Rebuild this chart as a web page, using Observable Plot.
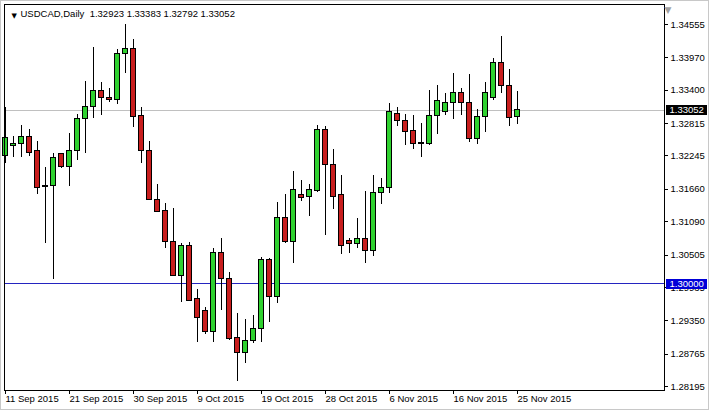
<!DOCTYPE html>
<html><head><meta charset="utf-8">
<script src="https://cdn.jsdelivr.net/npm/d3@7"></script>
<script src="https://cdn.jsdelivr.net/npm/@observablehq/plot@0.6"></script>
<style>
html,body{margin:0;padding:0;background:#fff;}
#chart svg{display:block;outline:1px solid #c8c8c8;outline-offset:-1px;shape-rendering:crispEdges;}
</style></head><body><div id="chart"></div>
<script>
const symbol = "USDCAD,Daily";
const open = [1.32236,1.32412,1.32447,1.32587,1.32324,1.31709,1.31709,1.32271,1.32060,1.32324,
1.32886,1.33097,1.33378,1.33272,1.33220,1.34045,1.34116,1.32939,1.32341,1.31463,
1.31270,1.30725,1.30145,1.30655,1.29724,1.29530,1.29144,1.30532,1.30075,1.29056,
1.28775,1.28986,1.29214,1.30426,1.29759,1.31147,1.30725,1.31551,1.31516,1.31621,
1.32693,1.32095,1.31551,1.30743,1.30707,1.30795,1.30567,1.31603,1.31674,1.32974,
1.32868,1.32675,1.32473,1.32447,1.32939,1.33009,1.33167,1.33343,1.33167,1.32535,
1.32921,1.33255,1.33870,1.33483,1.32923];
const high = [1.33097,1.32587,1.32781,1.32710,1.32499,1.32043,1.32289,1.32289,1.32640,1.32974,
1.33554,1.34151,1.33536,1.33431,1.34116,1.34555,1.34291,1.33097,1.32499,1.31744,
1.31410,1.31322,1.30707,1.30725,1.29899,1.29583,1.30620,1.30795,1.30198,1.29478,
1.29372,1.29442,1.30461,1.30444,1.31428,1.31568,1.31972,1.31814,1.31744,1.32781,
1.32763,1.32359,1.31902,1.30795,1.31147,1.31621,1.31902,1.31849,1.33167,1.33097,
1.32974,1.32956,1.32816,1.33395,1.33483,1.33343,1.33694,1.33431,1.33677,1.33062,
1.33536,1.33958,1.34344,1.33764,1.33383];
const low = [1.32113,1.32218,1.32218,1.32236,1.31568,1.30707,1.30075,1.32025,1.31709,1.32166,
1.32289,1.32904,1.32956,1.33185,1.33149,1.33694,1.32745,1.32113,1.31463,1.31252,
1.30620,1.30128,1.29671,1.29688,1.28968,1.29109,1.28968,1.29530,1.29003,1.28283,
1.28599,1.28950,1.28968,1.29319,1.29653,1.30707,1.30356,1.31445,1.31182,1.31603,
1.30848,1.31305,1.30514,1.30532,1.30620,1.30356,1.30479,1.31393,1.31586,1.32763,
1.32429,1.32359,1.32218,1.32429,1.32622,1.32956,1.32886,1.32956,1.32482,1.32447,
1.32658,1.33220,1.33343,1.32763,1.32792];
const close = [1.32552,1.32447,1.32587,1.32306,1.31691,1.31700,1.32201,1.32060,1.32341,1.32886,
1.33097,1.33395,1.33272,1.33220,1.34045,1.34116,1.32921,1.32324,1.31480,1.31252,
1.30725,1.30145,1.30655,1.29706,1.29407,1.29144,1.30532,1.30075,1.29038,1.28775,
1.29003,1.29214,1.30409,1.29759,1.31147,1.30725,1.31639,1.31498,1.31656,1.32693,
1.32095,1.31533,1.30655,1.30707,1.30795,1.30567,1.31603,1.31674,1.33009,1.32851,
1.32658,1.32464,1.32464,1.32956,1.33202,1.33167,1.33343,1.33167,1.32535,1.32921,
1.33360,1.33870,1.33483,1.32904,1.33052];
const xTickIdx = [0,8,16,24,32,40,48,56,64];
const xTickLabels = ["11 Sep 2015","21 Sep 2015","30 Sep 2015","9 Oct 2015","19 Oct 2015","28 Oct 2015","6 Nov 2015","16 Nov 2015","25 Nov 2015"];
const yTicks = [1.34555,1.33970,1.33400,1.32815,1.32245,1.31660,1.31090,1.30505,1.29935,1.29350,1.28765,1.28195];
const bidPrice = 1.33052;
const levelPrice = 1.30000;

const GREEN = "#2fd12f", RED = "#c81e1e", NAVY = "#2424c0";
const FONT = '"Liberation Sans", Arial, sans-serif';
const bars = open.map((o, i) => ({i, open: o, high: high[i], low: low[i], close: close[i]}));
const labelMap = new Map(xTickIdx.map((k, j) => [k, xTickLabels[j]]));
const last = bars[bars.length - 1];
const titleText = symbol + "\u00A0\u00A0" + [last.open, last.high, last.low, last.close].map(v => v.toFixed(5)).join(" ");
const tags = [{v: bidPrice, fill: "#000"}, {v: levelPrice, fill: "#0000d8"}];

const chart = Plot.plot({
  width: 709, height: 410,
  marginLeft: 4, marginRight: 45, marginTop: 4, marginBottom: 20,
  style: {fontFamily: FONT, fontSize: "9.5px", background: "#fff", color: "#000"},
  x: {type: "linear", domain: [-0.125, 82.375]},
  y: {type: "linear", domain: [1.28125, 1.34906]},
  marks: [
    Plot.ruleY([bidPrice], {stroke: "#c0c0c0"}),
    Plot.ruleY([levelPrice], {stroke: NAVY}),
    Plot.ruleX(bars, {x: "i", y1: "low", y2: "high", stroke: "#000"}),
    Plot.rect(bars, {x1: d => d.i - 0.3125, x2: d => d.i + 0.3125, y1: "open", y2: "close",
      fill: d => d.close >= d.open ? GREEN : RED, stroke: "#000"}),
    Plot.frame({stroke: "#000"}),
    Plot.axisY({anchor: "right", ticks: yTicks, tickFormat: d => d.toFixed(5), tickSize: 3, tickPadding: 3, label: null}),
    Plot.axisX({ticks: xTickIdx, tickFormat: d => labelMap.get(d), tickSize: 4, tickPadding: 1, textAnchor: "start", label: null}),
    Plot.ruleY(tags, {y: "v", stroke: d => d.fill, strokeWidth: 10, insetLeft: 662, insetRight: -43}),
    Plot.text(tags, {y: "v", text: d => d.v.toFixed(5), frameAnchor: "right", dx: 5, textAnchor: "start", fill: "#fff"}),
    Plot.text([titleText], {frameAnchor: "top-left", dx: 16, dy: 9, textAnchor: "start", lineAnchor: "middle"}),
    Plot.text(["\u25BC"], {frameAnchor: "top-left", dx: 7, dy: 9, fontSize: 7, fontFamily: "DejaVu Sans"}),
    Plot.text(["\u25BC"], {frameAnchor: "top-right", dx: 7, dy: 2, fontSize: 9, fill: "#a0a0a0", fontFamily: "DejaVu Sans"})
  ]
});
document.getElementById("chart").appendChild(chart);
</script></body></html>
